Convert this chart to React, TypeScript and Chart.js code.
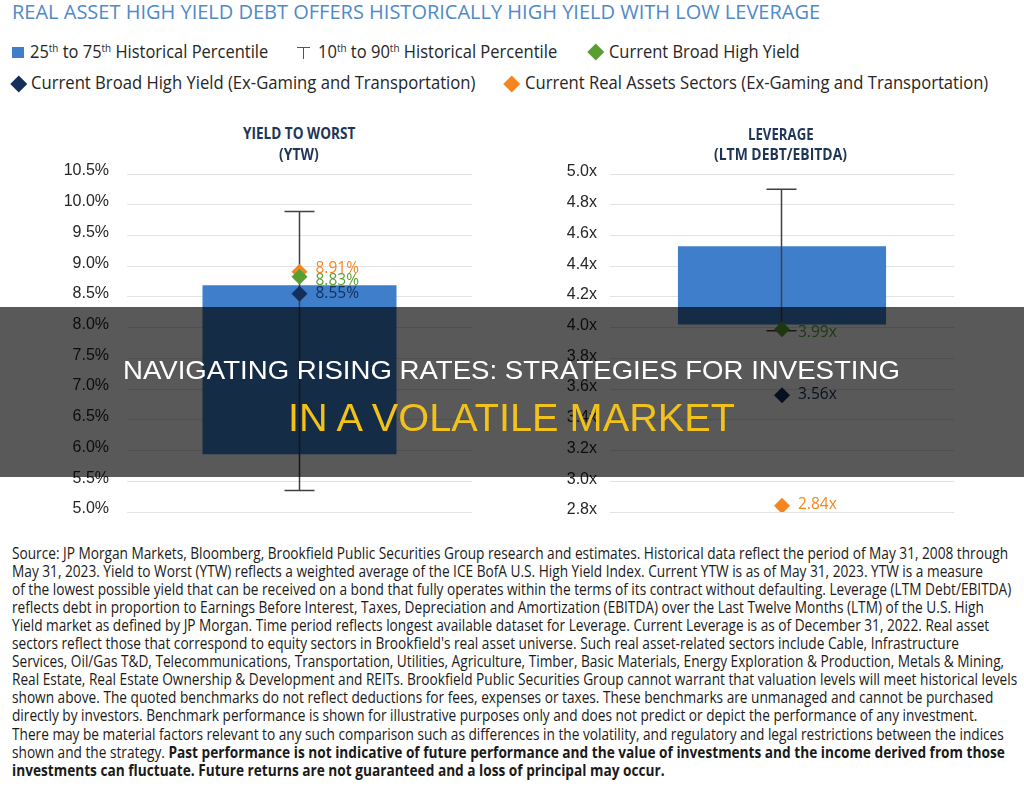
import React, { useEffect, useLayoutEffect, useRef, useState } from 'react';
import { Chart, registerables } from 'chart.js';

Chart.register(...registerables);

// ---------- data ----------
const chartTitle = 'REAL ASSET HIGH YIELD DEBT OFFERS HISTORICALLY HIGH YIELD WITH LOW LEVERAGE';
const panelCategories = ['YIELD TO WORST (YTW)', 'LEVERAGE (LTM DEBT/EBITDA)'];
const boxSeriesName = '25th to 75th Historical Percentile';
const whiskerSeriesName = '10th to 90th Historical Percentile';
const pointSeriesNames = [
  'Current Broad High Yield',
  'Current Broad High Yield (Ex-Gaming and Transportation)',
  'Current Real Assets Sectors (Ex-Gaming and Transportation)',
];

const ytwPercentile25to75 = [5.94, 8.69];
const ytwPercentile10to90 = [5.35, 9.89];
const ytwCurrent = [8.83, 8.55, 8.91];
const ytwTicks = [5.0, 5.5, 6.0, 6.5, 7.0, 7.5, 8.0, 8.5, 9.0, 9.5, 10.0, 10.5];

const levPercentile25to75 = [4.02, 4.53];
const levPercentile10to90 = [3.98, 4.9];
const levCurrent = [3.99, 3.56, 2.84];
const levTicks = [2.8, 3.0, 3.2, 3.4, 3.6, 3.8, 4.0, 4.2, 4.4, 4.6, 4.8, 5.0];

const footnoteLines: { t: string; b?: boolean }[][] = [
  [{ t: 'Source: JP Morgan Markets, Bloomberg, Brookfield Public Securities Group research and estimates. Historical data reflect the period of May 31, 2008 through' }],
  [{ t: 'May 31, 2023. Yield to Worst (YTW) reflects a weighted average of the ICE BofA U.S. High Yield Index. Current YTW is as of May 31, 2023. YTW is a measure' }],
  [{ t: 'of the lowest possible yield that can be received on a bond that fully operates within the terms of its contract without defaulting. Leverage (LTM Debt/EBITDA)' }],
  [{ t: 'reflects debt in proportion to Earnings Before Interest, Taxes, Depreciation and Amortization (EBITDA) over the Last Twelve Months (LTM) of the U.S. High' }],
  [{ t: 'Yield market as defined by JP Morgan. Time period reflects longest available dataset for Leverage. Current Leverage is as of December 31, 2022. Real asset' }],
  [{ t: "sectors reflect those that correspond to equity sectors in Brookfield's real asset universe. Such real asset-related sectors include Cable, Infrastructure" }],
  [{ t: 'Services, Oil/Gas T&D, Telecommunications, Transportation, Utilities, Agriculture, Timber, Basic Materials, Energy Exploration & Production, Metals & Mining,' }],
  [{ t: 'Real Estate, Real Estate Ownership & Development and REITs. Brookfield Public Securities Group cannot warrant that valuation levels will meet historical levels' }],
  [{ t: 'shown above. The quoted benchmarks do not reflect deductions for fees, expenses or taxes. These benchmarks are unmanaged and cannot be purchased' }],
  [{ t: 'directly by investors. Benchmark performance is shown for illustrative purposes only and does not predict or depict the performance of any investment.' }],
  [{ t: 'There may be material factors relevant to any such comparison such as differences in the volatility, and regulatory and legal restrictions between the indices' }],
  [
    { t: 'shown and the strategy. ' },
    { t: 'Past performance is not indicative of future performance and the value of investments and the income derived from those', b: true },
  ],
  [{ t: 'investments can fluctuate. Future returns are not guaranteed and a loss of principal may occur.', b: true }],
];

const overlayLine1 = 'NAVIGATING RISING RATES: STRATEGIES FOR INVESTING';
const overlayLine2 = 'IN A VOLATILE MARKET';

// ---------- styles ----------
const BOX_COLOR = '#3e7ecb';
const POINT_COLORS = ['#5a9e32', '#14305a', '#f5861f'];
const POINT_ORDER = [1, 2, 3];
const HEADER_COLOR = '#1d3557';
const TEXT_COLOR = '#262626';

// ---------- plugins ----------
const whiskerPlugin = {
  id: 'whisker',
  afterDatasetDraw(chart: any, args: any, opts: any) {
    if (args.meta.type !== 'bar') return;
    const el = args.meta.data[0];
    if (!el) return;
    const y = chart.scales.y;
    const ctx = chart.ctx;
    const x = Math.round(el.x - 1) + 0.5;
    const yTop = y.getPixelForValue(opts.range[1]);
    const yBot = y.getPixelForValue(opts.range[0]);
    ctx.save();
    ctx.strokeStyle = '#404040';
    ctx.lineWidth = 1.5;
    ctx.beginPath();
    ctx.moveTo(x, yTop);
    ctx.lineTo(x, yBot);
    ctx.moveTo(x - opts.cap, yTop);
    ctx.lineTo(x + opts.cap, yTop);
    ctx.moveTo(x - opts.cap, yBot);
    ctx.lineTo(x + opts.cap, yBot);
    ctx.stroke();
    ctx.restore();
  },
};

const pointLabelPlugin = {
  id: 'pointLabels',
  afterDatasetsDraw(chart: any, _args: any, opts: any) {
    const ctx = chart.ctx;
    ctx.save();
    ctx.font = '15.5px "Open Sans"';
    ctx.textBaseline = 'middle';
    ctx.textAlign = 'left';
    chart.data.datasets.forEach((ds: any, i: number) => {
      if (ds.type !== 'line') return;
      const pt = chart.getDatasetMeta(i).data[0];
      if (!pt) return;
      ctx.fillStyle = ds.backgroundColor;
      ctx.fillText(Number(ds.data[0]).toFixed(2) + opts.suffix, pt.x + 16, pt.y + (ds.labelShift || 0));
    });
    ctx.restore();
  },
};

type PanelSpec = {
  category: string;
  box: number[];
  whisker: number[];
  current: number[];
  ticks: number[];
  suffix: string;
  barPct: number;
  axisWidth: number;
  tickPad: number;
  labelOffset: number;
  rightPad: number;
  labelShift: number[];
};

function buildConfig(p: PanelSpec): any {
  return {
    type: 'bar',
    data: {
      labels: [p.category],
      datasets: [
        {
          type: 'bar',
          label: boxSeriesName,
          data: [[p.box[0], p.box[1]]],
          backgroundColor: BOX_COLOR,
          borderWidth: 0,
          borderSkipped: false,
          barPercentage: p.barPct,
          categoryPercentage: 1,
          order: 10,
        },
        ...pointSeriesNames.map((name, i) => ({
          type: 'line',
          label: name,
          data: [p.current[i]],
          showLine: false,
          pointStyle: 'rectRot',
          pointRadius: 8,
          pointHoverRadius: 8,
          pointBorderWidth: 0,
          backgroundColor: POINT_COLORS[i],
          borderColor: POINT_COLORS[i],
          order: POINT_ORDER[i],
          labelShift: p.labelShift[i],
        })),
      ],
    },
    options: {
      animation: false,
      responsive: false,
      devicePixelRatio: 1,
      layout: { padding: { top: 30, bottom: 30, left: 0, right: p.rightPad } },
      plugins: {
        legend: { display: false },
        tooltip: { enabled: false },
        whisker: { range: p.whisker, cap: 15 },
        pointLabels: { suffix: p.suffix },
      },
      scales: {
        x: { type: 'category', display: false, offset: true },
        y: {
          min: p.ticks[0],
          max: p.ticks[p.ticks.length - 1],
          afterBuildTicks: (ax: any) => {
            ax.ticks = p.ticks.map((v) => ({ value: v }));
          },
          afterFit: (ax: any) => {
            ax.width = p.axisWidth;
          },
          ticks: {
            callback: (v: any) => Number(v).toFixed(1) + p.suffix,
            font: { family: '"Liberation Sans", Arial, sans-serif', size: 16 },
            color: TEXT_COLOR,
            padding: p.tickPad,
            labelOffset: p.labelOffset,
          },
          grid: { color: '#e3e3e3', lineWidth: 1, drawTicks: false },
          border: { display: false },
        },
      },
    },
    plugins: [whiskerPlugin, pointLabelPlugin],
  };
}

function Panel({ spec, left, top }: { spec: PanelSpec; left: number; top: number }) {
  const ref = useRef<HTMLCanvasElement>(null);
  useEffect(() => {
    const chart = new Chart(ref.current as HTMLCanvasElement, buildConfig(spec));
    return () => chart.destroy();
  }, []);
  return (
    <canvas
      ref={ref}
      width={512}
      height={398}
      style={{ position: 'absolute', left, top, width: 512, height: 398, zIndex: 1 }}
    />
  );
}

// ---------- text helpers ----------
function Fit(props: {
  x: number;
  y: number;
  w: number;
  align?: 'left' | 'center';
  size: number;
  family?: string;
  weight?: number;
  color: string;
  z?: number;
  children: React.ReactNode;
}) {
  const { x, y, w, align = 'left', size, family = '"Open Sans", sans-serif', weight = 400, color, z = 2 } = props;
  const ref = useRef<HTMLSpanElement>(null);
  const [s, setS] = useState(1);
  useLayoutEffect(() => {
    const el = ref.current;
    if (el && el.offsetWidth) setS(w / el.offsetWidth);
  }, [w]);
  const left = align === 'center' ? x - w / 2 : x;
  return (
    <div style={{ position: 'absolute', left, top: y, height: 0, width: 0, zIndex: z }}>
      <span
        ref={ref}
        style={{
          position: 'absolute',
          left: 0,
          top: 0,
          display: 'inline-block',
          whiteSpace: 'nowrap',
          transform: `translateY(-50%) scaleX(${s})`,
          transformOrigin: '0 50%',
          fontFamily: family,
          fontSize: size,
          fontWeight: weight,
          lineHeight: 1,
          color,
        }}
      >
        {props.children}
      </span>
    </div>
  );
}

const Sup = ({ children }: { children: React.ReactNode }) => (
  <span style={{ fontSize: '0.6em', position: 'relative', top: '-0.62em' }}>{children}</span>
);

function Diamond({ cx, cy, color, size = 11.5 }: { cx: number; cy: number; color: string; size?: number }) {
  return (
    <div
      style={{
        position: 'absolute',
        left: cx - size / 2,
        top: cy - size / 2,
        width: size,
        height: size,
        background: color,
        transform: 'rotate(45deg)',
        zIndex: 2,
      }}
    />
  );
}

function Footnote() {
  const ref = useRef<HTMLSpanElement>(null);
  const [s, setS] = useState(1);
  useLayoutEffect(() => {
    if (ref.current && ref.current.offsetWidth) setS(996 / ref.current.offsetWidth);
  }, []);
  return (
    <>
      {footnoteLines.map((segs, i) => (
        <div key={i} style={{ position: 'absolute', left: 12, top: 553.5 + i * 18.1, height: 0, width: 0, zIndex: 2 }}>
          <span
            ref={i === 0 ? ref : undefined}
            style={{
              position: 'absolute',
              left: 0,
              top: 0,
              display: 'inline-block',
              whiteSpace: 'nowrap',
              transform: `translateY(-50%) scaleX(${s})`,
              transformOrigin: '0 50%',
              fontFamily: '"Open Sans", sans-serif',
              fontSize: 15.5,
              lineHeight: 1,
              color: '#1a1a1a',
            }}
          >
            {segs.map((sg, j) => (
              <span key={j} style={{ fontWeight: sg.b ? 700 : 400 }}>
                {sg.t}
              </span>
            ))}
          </span>
        </div>
      ))}
    </>
  );
}

const ytwSpec: PanelSpec = {
  category: panelCategories[0],
  box: ytwPercentile25to75,
  whisker: ytwPercentile10to90,
  current: ytwCurrent,
  ticks: ytwTicks,
  suffix: '%',
  barPct: 0.5623,
  axisWidth: 127,
  tickPad: 18,
  labelOffset: -3,
  rightPad: 40,
  labelShift: [3.5, 0, -3.5],
};

const levSpec: PanelSpec = {
  category: panelCategories[1],
  box: levPercentile25to75,
  whisker: levPercentile10to90,
  current: levCurrent,
  ticks: levTicks,
  suffix: 'x',
  barPct: 0.605,
  axisWidth: 98,
  tickPad: 13,
  labelOffset: -2,
  rightPad: 70,
  labelShift: [3, -1, -1],
};

export default function App() {
  return (
    <div
      style={{
        position: 'absolute',
        left: 0,
        top: 0,
        width: 1024,
        height: 787,
        overflow: 'hidden',
        background: '#ffffff',
      }}
    >
      {/* title */}
      <Fit x={12} y={12} w={808} size={20} color="#4f8ac9">
        {chartTitle}
      </Fit>

      {/* legend row 1 */}
      <div style={{ position: 'absolute', left: 12, top: 46.5, width: 12, height: 11.5, background: BOX_COLOR, zIndex: 2 }} />
      <Fit x={30} y={52} w={238} size={17.5} color={TEXT_COLOR}>
        25<Sup>th</Sup> to 75<Sup>th</Sup> Historical Percentile
      </Fit>
      <div style={{ position: 'absolute', left: 296.5, top: 46.5, width: 13.5, height: 1.3, background: '#555', zIndex: 2 }} />
      <div style={{ position: 'absolute', left: 302.6, top: 46.5, width: 1.3, height: 12, background: '#555', zIndex: 2 }} />
      <Fit x={318} y={52} w={239} size={17.5} color={TEXT_COLOR}>
        10<Sup>th</Sup> to 90<Sup>th</Sup> Historical Percentile
      </Fit>
      <Diamond cx={595.5} cy={52} color={POINT_COLORS[0]} />
      <Fit x={609} y={52} w={191} size={17.5} color={TEXT_COLOR}>
        {pointSeriesNames[0]}
      </Fit>

      {/* legend row 2 */}
      <Diamond cx={18.5} cy={83.5} color={POINT_COLORS[1]} />
      <Fit x={31} y={83} w={444} size={17.5} color={TEXT_COLOR}>
        {pointSeriesNames[1]}
      </Fit>
      <Diamond cx={512} cy={83.5} color={POINT_COLORS[2]} />
      <Fit x={525} y={83} w={463} size={17.5} color={TEXT_COLOR}>
        {pointSeriesNames[2]}
      </Fit>

      {/* panel headers */}
      <Fit x={299} y={133} w={112} align="center" size={16} weight={700} color={HEADER_COLOR}>
        YIELD TO WORST
      </Fit>
      <Fit x={299} y={154} w={40} align="center" size={16} weight={700} color={HEADER_COLOR}>
        (YTW)
      </Fit>
      <Fit x={781} y={133.5} w={66} align="center" size={16} weight={700} color={HEADER_COLOR}>
        LEVERAGE
      </Fit>
      <Fit x={780.5} y={153.5} w={133} align="center" size={16} weight={700} color={HEADER_COLOR}>
        (LTM DEBT/EBITDA)
      </Fit>

      {/* charts */}
      <Panel spec={ytwSpec} left={0} top={144} />
      <Panel spec={levSpec} left={512} top={144} />

      {/* footnote */}
      <Footnote />

      {/* overlay band */}
      <div
        style={{
          position: 'absolute',
          left: 0,
          top: 307,
          width: 1024,
          height: 170,
          background: 'rgba(0,0,0,0.65)',
          zIndex: 10,
        }}
      />
      <Fit x={511.5} y={369.5} w={777} align="center" size={26} family='"Liberation Sans", Arial, sans-serif' color="#ffffff" z={11}>
        {overlayLine1}
      </Fit>
      <Fit x={511.5} y={418} w={447} align="center" size={38} family='"Liberation Sans", Arial, sans-serif' color="#f2c21a" z={11}>
        {overlayLine2}
      </Fit>
    </div>
  );
}
